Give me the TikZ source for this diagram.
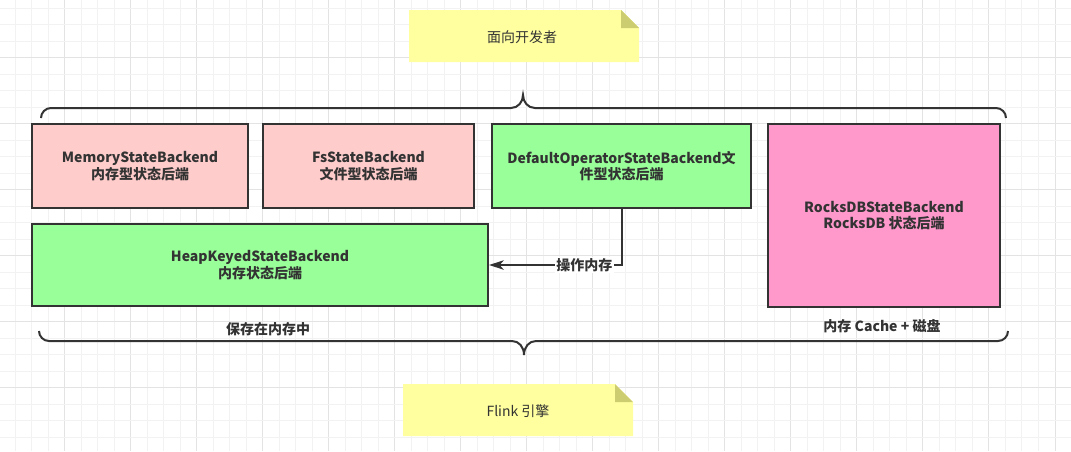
\documentclass[tikz,border=0pt]{standalone}
\usepackage{fontspec}
\setmainfont{Noto Sans CJK SC}
\usetikzlibrary{arrows.meta}
\definecolor{txt}{HTML}{333333}
\definecolor{gridminor}{HTML}{F2F2F2}
\definecolor{gridmajor}{HTML}{E3E3E3}
\definecolor{noteY}{HTML}{FFFFA0}
\definecolor{noteF}{HTML}{CCCC70}
\definecolor{pinkA}{HTML}{FFCCCC}
\definecolor{greenA}{HTML}{99FF99}
\definecolor{pinkB}{HTML}{FF99CC}
\begin{document}
\begin{tikzpicture}[x=0.75pt,y=-0.75pt,
  box/.style={draw=txt, line width=1.5pt, text=txt, font=\fontsize{10.5pt}{12.5pt}\selectfont\bfseries, align=center, inner sep=0pt},
  notetext/.style={text=txt, font=\fontsize{10.5pt}{12.5pt}\selectfont, inner sep=0pt},
  lbl/.style={text=txt, font=\fontsize{10.5pt}{12.5pt}\selectfont\bfseries, inner sep=1pt},
  brace/.style={draw=txt, line width=1.5pt},
  conn/.style={draw=txt, line width=1.5pt, -{Stealth[length=11pt,width=7pt,inset=3pt]}}]
\useasboundingbox (0,0) rectangle (1071,451);
\fill[white] (0,0) rectangle (1071,451);
% grid
\foreach \k in {0,...,63}{
  \pgfmathsetmacro{\xx}{15+16.508*\k}
  \pgfmathtruncatemacro{\m}{mod(\k,4)}
  \ifnum\m=3 \draw[gridmajor, line width=0.75pt] (\xx,0) -- (\xx,451);
  \else \draw[gridminor, line width=0.75pt] (\xx,0) -- (\xx,451); \fi
}
\foreach \k in {0,...,26}{
  \pgfmathsetmacro{\yy}{8+16.5*\k}
  \pgfmathtruncatemacro{\m}{mod(\k,4)}
  \ifnum\m=3 \draw[gridmajor, line width=0.75pt] (0,\yy) -- (1071,\yy);
  \else \draw[gridminor, line width=0.75pt] (0,\yy) -- (1071,\yy); \fi
}
% top note
\fill[noteY] (409,10) -- (621,10) -- (639,28) -- (639,62) -- (409,62) -- cycle;
\fill[noteF] (621,10) -- (621,28) -- (639,28) -- cycle;
\node[notetext] (dev) at (522,37) {面向开发者};
% bottom note
\fill[noteY] (403,384) -- (615,384) -- (633,402) -- (633,436) -- (403,436) -- cycle;
\fill[noteF] (615,384) -- (615,402) -- (633,402) -- cycle;
\node[notetext] (flink) at (518,411) {Flink 引擎};
% top brace
\draw[brace] (41,118) .. controls (41,112.5) and (45.5,108) .. (51,108) -- (511,108)
  .. controls (518,108) and (523,102) .. (523,95)
  .. controls (523,102) and (528,108) .. (535,108) -- (996,108)
  .. controls (1001.5,108) and (1006,112.5) .. (1006,118);
% bottom brace
\draw[brace] (39,331) .. controls (39,336.5) and (43.5,341) .. (49,341) -- (512,341)
  .. controls (519,341) and (524,347) .. (524,355)
  .. controls (524,347) and (529,341) .. (536,341) -- (998,341)
  .. controls (1003.5,341) and (1008,336.5) .. (1008,331);
% boxes
\node[box, fill=pinkA, minimum width=216*0.75pt, minimum height=84*0.75pt] (mem) at (140,166) {MemoryStateBackend\\内存型状态后端};
\node[box, fill=pinkA, minimum width=211*0.75pt, minimum height=84*0.75pt] (fs) at (368.5,166) {FsStateBackend\\文件型状态后端};
\node[box, fill=greenA, minimum width=259*0.75pt, minimum height=84*0.75pt] (dop) at (621.5,166) {DefaultOperatorStateBackend文\\件型状态后端};
\node[box, fill=pinkB, minimum width=232*0.75pt, minimum height=183*0.75pt] (rocks) at (884,215.5) {RocksDBStateBackend\\RocksDB 状态后端};
\node[box, fill=greenA, minimum width=456*0.75pt, minimum height=82*0.75pt] (heap) at (260,265) {HeapKeyedStateBackend\\内存状态后端};
% connector
\draw[conn] (dop.south) |- (heap.east) node[lbl, fill=white, pos=0.64] (op) {操作内存};
% brace labels
\node[lbl] (mem2) at (268,329) {保存在内存中};
\node[lbl] (cache) at (882,326) {内存 Cache + 磁盘};
\end{tikzpicture}
\end{document}
